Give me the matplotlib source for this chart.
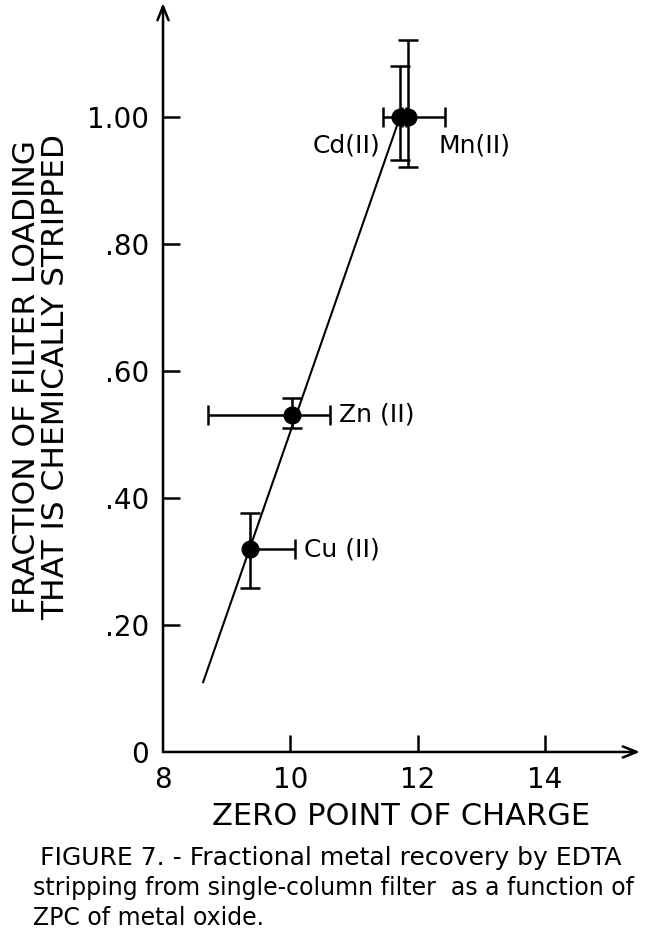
import matplotlib
matplotlib.use("Agg")
import matplotlib.pyplot as plt
import numpy as np

# data
metals = ['Cd(II)', 'Mn(II)', 'Zn (II)', 'Cu (II)']
zpc = [11.72, 11.85, 10.02, 9.37]
frac = [1.00, 1.00, 0.531, 0.319]
xerr_lo = [0.27, 0.10, 1.32, 0.0]
xerr_hi = [0.10, 0.58, 0.60, 0.70]
yerr_lo = [0.067, 0.078, 0.021, 0.060]
yerr_hi = [0.080, 0.121, 0.027, 0.058]

# label anchor (x, y, ha)
lab_pos = [(11.42, 0.955, 'right'), (12.33, 0.955, 'left'),
           (10.76, 0.531, 'left'), (10.22, 0.319, 'left')]

fit_x = [8.63, 11.72]
fit_y = [0.11, 1.00]

yticks = [0, 0.2, 0.4, 0.6, 0.8, 1.0]
ytick_lab = ['0', '.20', '.40', '.60', '.80', '1.00']
xticks = [8, 10, 12, 14]
xtick_lab = ['8', '10', '12', '14']

plt.rcParams['font.family'] = ['DejaVu Sans']

fig = plt.figure(figsize=(6.5, 9.34), dpi=100)
ax = fig.add_axes([0.2508, 0.1949, 0.7338, 0.8019])

ax.plot(fit_x, fit_y, color='black', lw=1.5, zorder=2)
for i in range(len(metals)):
    ax.errorbar(zpc[i], frac[i],
                xerr=[[xerr_lo[i]], [xerr_hi[i]]],
                yerr=[[yerr_lo[i]], [yerr_hi[i]]],
                fmt='o', color='black', ms=12, elinewidth=1.8,
                capsize=7, capthick=1.8, zorder=3)
    px, py, ha = lab_pos[i]
    ax.text(px, py, metals[i], ha=ha, va='center', fontsize=18)

ax.set_xlim(8, 15.49)
ax.set_ylim(0, 1.18)
for s in ['top', 'right', 'left', 'bottom']:
    ax.spines[s].set_visible(False)

# axes with arrow heads
ax.annotate('', xy=(1, 0), xytext=(0, 0), xycoords='axes fraction',
            arrowprops=dict(arrowstyle='->,head_length=1.0,head_width=0.4',
                            lw=1.8, color='black', shrinkA=0, shrinkB=0))
ax.annotate('', xy=(0, 1), xytext=(0, 0), xycoords='axes fraction',
            arrowprops=dict(arrowstyle='->,head_length=1.0,head_width=0.4',
                            lw=1.8, color='black', shrinkA=0, shrinkB=0))

ax.set_xticks(xticks)
ax.set_xticklabels(xtick_lab)
ax.set_yticks(yticks)
ax.set_yticklabels(ytick_lab)
ax.tick_params(axis='both', direction='in', length=12, width=1.8,
               labelsize=20)
ax.tick_params(axis='x', pad=10)
ax.tick_params(axis='y', pad=10)
# no tick marks at the origin
ax.xaxis.get_major_ticks()[0].tick1line.set_visible(False)
ax.yaxis.get_major_ticks()[0].tick1line.set_visible(False)

ax.set_xlabel('ZERO POINT OF CHARGE', fontsize=22, labelpad=6)
ax.set_ylabel('FRACTION OF FILTER LOADING\nTHAT IS CHEMICALLY STRIPPED',
              fontsize=22.5, labelpad=12, linespacing=1.0)

fig.text(40 / 650, 1 - 858 / 934,
         'FIGURE 7. - Fractional metal recovery by EDTA',
         fontsize=18, va='center', ha='left')
fig.text(33 / 650, 1 - 888 / 934,
         'stripping from single-column filter  as a function of',
         fontsize=17, va='center', ha='left')
fig.text(33 / 650, 1 - 918 / 934,
         'ZPC of metal oxide.',
         fontsize=17, va='center', ha='left')

fig.savefig('out.png', dpi=100)
